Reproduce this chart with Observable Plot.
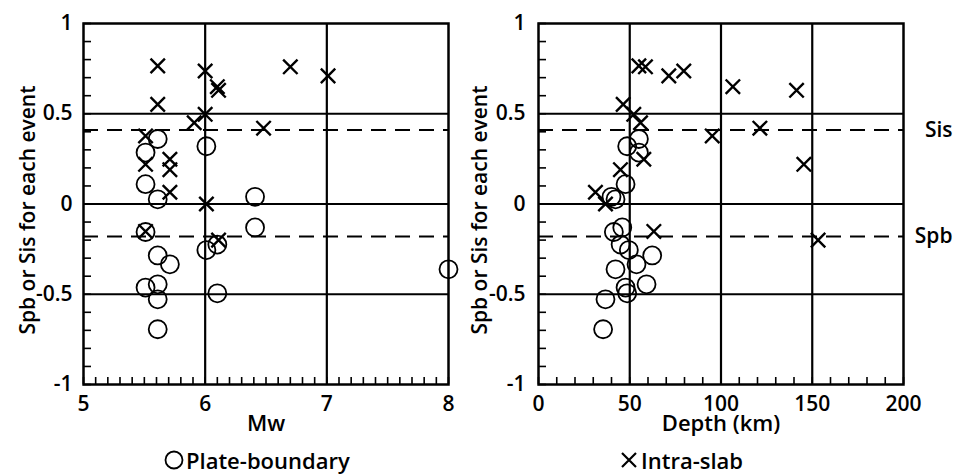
<!DOCTYPE html>
<html><head><meta charset="utf-8">
<script src="https://cdn.jsdelivr.net/npm/d3@7"></script>
<script src="https://cdn.jsdelivr.net/npm/@observablehq/plot@0.6"></script>
<style>
body{margin:0;background:#fff;}
#wrap{position:relative;width:963px;height:475px;font-family:"Open Sans",sans-serif;font-weight:600;color:#000;}
#left{position:absolute;left:0;top:0;}
#right{position:absolute;left:470px;top:0;}
.legend{position:absolute;font-size:22px;line-height:24px;display:flex;align-items:center;white-space:nowrap;}
.legend svg{margin-right:2px;}
.ylab{position:absolute;width:300px;height:26px;line-height:26px;font-size:21px;text-align:center;white-space:nowrap;transform:rotate(-90deg);transform-origin:center center;}
</style></head><body>
<div id="wrap">
<div id="left"></div><div id="right"></div>
<div class="ylab" id="ylabL" style="left:-123px;top:197px"></div>
<div class="ylab" id="ylabR" style="left:329px;top:197px"></div>
<div class="legend" style="left:164px;top:448px"><svg width="20" height="20"><circle cx="10" cy="10" r="8.5" fill="none" stroke="#000" stroke-width="1.8"/></svg><span>Plate-boundary</span></div>
<div class="legend" style="left:619px;top:448px"><svg width="20" height="20"><path d="M3,3L17,17M3,17L17,3" stroke="#000" stroke-width="2.2"/></svg><span>Intra-slab</span></div>
</div>
<script>
// Plate-boundary events
const plateValue = [0.36, 0.32, 0.285, 0.11, 0.04, 0.026, -0.13, -0.155, -0.225, -0.255, -0.285, -0.334, -0.362, -0.445, -0.463, -0.495, -0.528, -0.694];
const plateMw    = [5.61, 6.01, 5.51, 5.51, 6.41, 5.61, 6.41, 5.51, 6.10, 6.01, 5.61, 5.71, 8.0, 5.61, 5.51, 6.10, 5.61, 5.61];
const plateDepth = [55, 48.6, 55, 47.7, 40, 42.2, 45.9, 41.3, 45, 49.5, 62.3, 53.7, 42.2, 59.2, 47.7, 48.6, 36.7, 35.4];
// Intra-slab events
const slabValue = [0.765, 0.737, 0.76, 0.71, 0.65, 0.63, 0.552, 0.497, 0.45, 0.42, 0.377, 0.248, 0.22, 0.19, 0.065, 0.0, -0.152, -0.2];
const slabMw    = [5.61, 6.0, 6.70, 7.01, 6.10, 6.11, 5.61, 6.0, 5.91, 6.48, 5.51, 5.71, 5.51, 5.71, 5.71, 6.01, 5.51, 6.11];
const slabDepth = [55, 79.6, 58.6, 71.4, 106.5, 141.4, 46.4, 52.2, 55.9, 121.3, 95.2, 57.7, 145.4, 44.9, 31.2, 36.7, 63.2, 153.2];
// reference levels
const Sis = 0.41, Spb = -0.18;
const sideLabels = [{v: Sis, t: "Sis"}, {v: Spb, t: "Spb"}];
// axes
const yTicks = [-1, -0.5, 0, 0.5, 1];
const yGrid = [-0.5, 0, 0.5];
const mwTicks = [5, 6, 7, 8];
const mwGrid = [6, 7];
const depthTicks = [0, 50, 100, 150, 200];
const depthGrid = [50, 100, 150];
const yLabel = "Spb or Sis for each event";

document.getElementById("ylabL").textContent = yLabel;
document.getElementById("ylabR").textContent = yLabel;

const yMinor = d3.ticks(-1, 1, 20);

function panel({xDomain, xTicks, xMinor, xGrid, xLabel, plateX, slabX, width, marginLeft, marginRight, tickPad, side}) {
  const plate = plateValue.map((v, i) => ({x: plateX[i], y: v}));
  const slab = slabValue.map((v, i) => ({x: slabX[i], y: v}));
  const marks = [
    Plot.ruleX(xGrid, {strokeWidth: 2.2}),
    Plot.ruleY(yGrid, {strokeWidth: 2.2}),
    Plot.ruleY([Sis, Spb], {strokeWidth: 2.2, strokeDasharray: "15,9"}),
    Plot.axisX({ticks: xMinor, tickSize: -7, tickFormat: () => "", label: null, strokeWidth: 1.6}),
    Plot.axisY({ticks: yMinor, tickSize: -8, tickFormat: () => "", label: null, strokeWidth: 1.6}),
    Plot.axisX({ticks: xTicks, tickSize: 0, tickPadding: 12, tickFormat: d => String(d), label: null}),
    Plot.axisY({ticks: yTicks, tickSize: 0, tickPadding: tickPad, tickFormat: d => String(d), label: null}),
    Plot.frame({strokeWidth: 2.5}),
    Plot.dot(plate, {x: "x", y: "y", r: 9, stroke: "#000", strokeWidth: 1.8, fill: "none"}),
    Plot.dot(slab, {x: "x", y: "y", symbol: "times", r: 6.6, stroke: "#000", strokeWidth: 2.4}),
    Plot.text([xLabel], {text: d => d, frameAnchor: "bottom", textAnchor: "middle", dy: 46, fontSize: 22})
  ];
  if (side) marks.push(Plot.text(sideLabels, {y: "v", text: "t", frameAnchor: "right", dx: 49, textAnchor: "end", fontSize: 21}));
  return Plot.plot({
    width, height: 440, marginLeft, marginRight, marginTop: 23, marginBottom: 56,
    style: {fontFamily: "'Open Sans', sans-serif", fontSize: "21px", fontWeight: 600, color: "#000", background: "#fff", overflow: "visible"},
    x: {domain: xDomain},
    y: {domain: [-1, 1]},
    marks
  });
}

document.getElementById("left").append(panel({
  xDomain: [5, 8], xTicks: mwTicks, xMinor: d3.ticks(5, 8, 30), xGrid: mwGrid, xLabel: "Mw",
  plateX: plateMw, slabX: slabMw, width: 470, marginLeft: 83, marginRight: 22, tickPad: 11, side: false
}));
document.getElementById("right").append(panel({
  xDomain: [0, 200], xTicks: depthTicks, xMinor: d3.ticks(0, 200, 20), xGrid: depthGrid, xLabel: "Depth (km)",
  plateX: plateDepth, slabX: slabDepth, width: 493, marginLeft: 68, marginRight: 60, tickPad: 13, side: true
}));
</script>
</body></html>
